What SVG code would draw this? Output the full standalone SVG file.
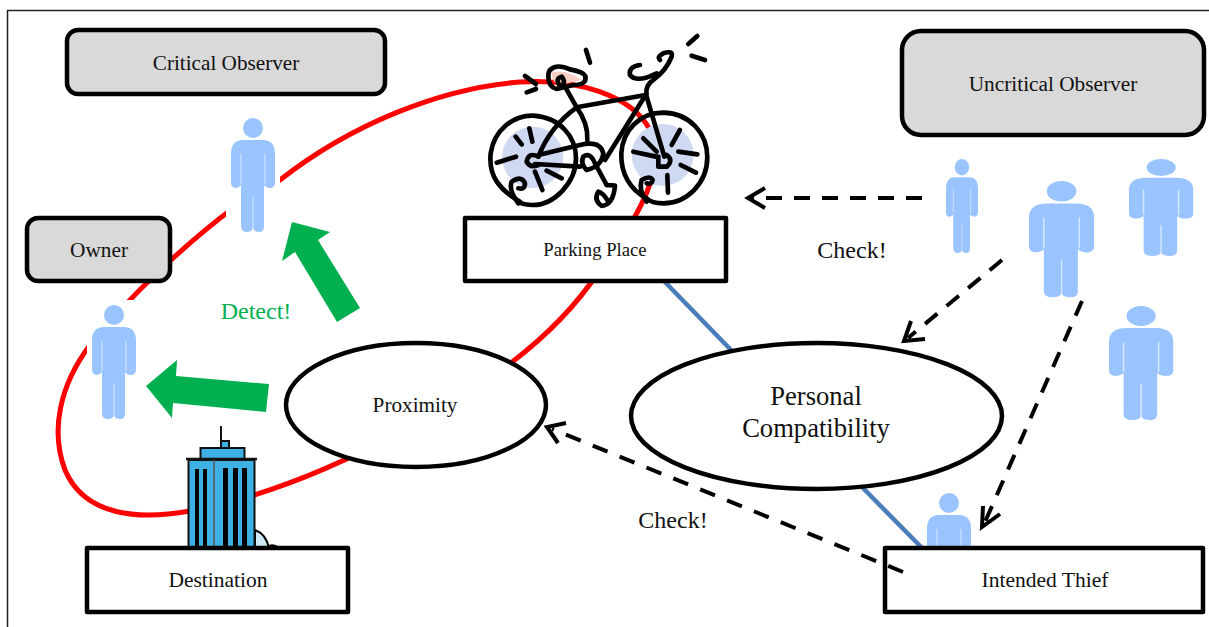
<svg xmlns="http://www.w3.org/2000/svg" width="1209" height="627" viewBox="0 0 1209 627">
<style>
text{font-family:"Liberation Serif","Times New Roman",serif;fill:#111;text-anchor:middle}
.box{fill:#fff;stroke:#000;stroke-width:4.5;stroke-linejoin:round}
.grey{fill:#d9d9d9;stroke:#000;stroke-width:4.5}
.ell{fill:#fff;stroke:#000;stroke-width:4.5}
.dash{fill:none;stroke:#000;stroke-width:4;stroke-dasharray:16 12}
.head{fill:none;stroke:#000;stroke-width:4}
.blue{stroke:#4a7ebb;stroke-width:4.5;fill:none}
.green{fill:#00b050}
.b{fill:none;stroke:#000;stroke-width:14;stroke-linecap:round;stroke-linejoin:round}
.bld{fill:#3db1e4;stroke:#111;stroke-width:2}
</style>
<defs>
<g id="person">
<ellipse cx="22" cy="10" rx="10" ry="10" fill="#99c4ff"/>
<path fill="#99c4ff" d="M12 22H32Q44 22 44 36V64Q44 70 39 70Q35 70 33 67V108Q33 114 28 114Q23 114 22 110Q21 114 16 114Q10 114 10 108V67Q8 70 5 70Q0 70 0 64V36Q0 22 12 22Z"/>
<path fill="none" stroke="#d6e7ff" stroke-width="1" d="M10 36V66M34 36V66M22 78V111"/>
</g>
</defs>
<rect x="7.500" y="10.500" width="1210" height="630" fill="#fff" stroke="#222" stroke-width="1.500"/>
<g id="connectors">
<path fill="none" stroke="#f00" stroke-width="5" d="M236 206C190 240 130 295 90 345C60 385 50 430 65 470C85 517 140 520 190 511C260 498 330 470 400 432C480 388 550 345 600 270C640 215 668 165 650 130C632 95 575 78 520 82C440 88 350 125 280 180L236 206"/>
<rect x="226" y="118" width="54" height="114" fill="#fff"/>
<rect x="87" y="300" width="54" height="118" fill="#fff"/>
<line class="blue" x1="664" y1="281" x2="731" y2="350"/>
<line class="blue" x1="862" y1="487" x2="923" y2="549"/>
<path class="dash" d="M922 198H752"/><path class="head" d="M765 188L748 198L765 208"/>
<path class="dash" d="M1002 260L908 338"/><path class="head" d="M911 321L904 341L925 339"/>
<path class="dash" d="M1082 301L985 522"/><path class="head" d="M983 506L982 527L1000 514"/>
<path class="head" d="M566 423L547 427L558 443"/>
<polygon class="green" points="292,222 330,232 318,240 360,308 337,322 295,252 282,261"/>
<polygon class="green" points="146,386 177,360 176,376 269,384 266,412 173,403 172,418"/>
</g>
<g id="critical-observer-person"><use href="#person" x="231" y="118"/></g>
<g id="owner-person"><use href="#person" x="92" y="305"/></g>
<g id="uncritical-1"><use href="#person" transform="translate(946 159) scale(.727 .825)"/></g>
<g id="uncritical-2"><use href="#person" transform="translate(1029 181) scale(1.48 1.02)"/></g>
<g id="uncritical-3"><use href="#person" transform="translate(1129 159) scale(1.46 .85)"/></g>
<g id="uncritical-4"><use href="#person" transform="translate(1109 306) scale(1.46 1)"/></g>
<g id="thief-person"><use href="#person" x="927" y="493"/></g>
<g id="bicycle" transform="translate(470 20) scale(.3333)">
<circle cx="188" cy="412" r="92" fill="#d0d9f2"/><circle cx="578" cy="405" r="93" fill="#d0d9f2"/>
<path fill="#f8cfc4" d="M245 155Q300 150 335 180L270 195Q245 190 245 155Z"/>
<g class="b">
<path d="M150 545C90 510 55 470 62 400C72 330 130 285 190 287C270 292 318 350 318 415C318 490 250 555 190 555C170 555 155 552 145 545"/>
<path d="M530 535C480 510 452 460 454 400C458 330 510 278 580 278C660 280 712 340 712 412C712 490 650 550 580 550C560 550 540 545 530 535"/>
<path d="M240 150Q260 130 300 148Q340 155 346 168Q352 195 310 195L260 207Q235 200 235 170Q235 155 240 150ZM268 195Q255 175 275 170Q285 180 280 195"/>
<path d="M285 200L320 262Q355 310 352 360M320 262L527 225L405 420M320 262Q240 320 205 410M205 405L330 375Q390 360 400 400Q395 440 350 450Q330 430 340 410Q360 395 375 430L410 495M195 432L330 440"/>
<path d="M410 495L435 497Q430 555 395 558Q370 540 385 515Q400 520 412 540"/>
<path d="M530 230L583 410M565 410V440H590Q612 420 590 405M530 225Q525 195 550 180Q590 150 605 110Q610 90 580 100Q560 110 570 120M510 135Q475 140 480 165Q500 190 560 160"/>
<path d="M490 395L558 410M520 355L560 395M605 375L630 330M625 395L682 403M632 435L678 458M592 465L594 518M530 545Q505 510 515 480Q540 465 548 480Q545 495 530 490"/>
<path d="M80 428L138 410M137 350L155 373M178 325L187 365M195 455L217 510M230 452L275 475M145 550Q115 510 125 485Q155 465 165 490Q165 510 145 505M205 410Q175 395 170 425Q180 445 205 435"/>
<path d="M348 90L360 128M165 168L198 192M170 217L198 207M655 72L682 48M665 107L705 120"/>
</g>
</g>
<g id="building">
<path d="M255 530Q266 534 269 548H255Z" fill="#d0ecf6" stroke="#000" stroke-width="2"/>
<path d="M269 546Q274 544 279 548" fill="none" stroke="#000" stroke-width="2"/>
<path d="M221 426V447M221 441H229V448H221Z" class="bld"/>
<rect class="bld" x="200.500" y="448" width="44" height="11"/>
<path d="M186 459H257" stroke="#111" stroke-width="2.500"/>
<rect class="bld" x="188.500" y="460" width="66" height="90"/>
<line x1="214" y1="460" x2="214" y2="550" stroke="#555" stroke-width="1.500"/>
<path d="M195 469h4v81h-4zM203 469h4v81h-4zM223 468h5v82h-5zM233 468h5v82h-5zM242 468h5v82h-5z" fill="#000"/>
</g>
<g id="critical-observer"><rect class="grey" x="67" y="30" width="318" height="64" rx="11"/><text x="226" y="70" font-size="21.200">Critical Observer</text></g>
<g id="owner"><rect class="grey" x="27" y="218" width="143" height="63" rx="11"/><text x="99" y="257" font-size="21.300">Owner</text></g>
<g id="uncritical-observer"><rect class="grey" x="902" y="31" width="302" height="104" rx="19"/><text x="1053" y="91" font-size="21.300">Uncritical Observer</text></g>
<g id="parking-place"><rect class="box" x="465" y="218" width="261" height="63"/><text x="595" y="256" font-size="18.700">Parking Place</text></g>
<g id="destination"><rect class="box" x="87" y="548" width="261" height="64"/><text x="218" y="587" font-size="21.500">Destination</text></g>
<g id="intended-thief"><rect class="box" x="885" y="548" width="318" height="64"/><text x="1045" y="587" font-size="21.500">Intended Thief</text></g>
<g id="proximity"><ellipse class="ell" cx="416" cy="405" rx="130" ry="62"/><text x="415" y="412" font-size="21.200">Proximity</text></g>
<g id="personal-compatibility"><ellipse class="ell" cx="816.500" cy="416" rx="185.500" ry="73"/><text x="816" y="405" font-size="26.600">Personal</text><text x="816" y="437" font-size="26.600">Compatibility</text></g>
<g id="connectors-front"><path class="dash" style="stroke-dasharray:16 13" d="M903 572L552 429"/></g>
<text x="852" y="258" font-size="24">Check!</text>
<text x="673" y="528" font-size="24">Check!</text>
<text x="256" y="319" font-size="24" style="fill:#00b050">Detect!</text>
</svg>
